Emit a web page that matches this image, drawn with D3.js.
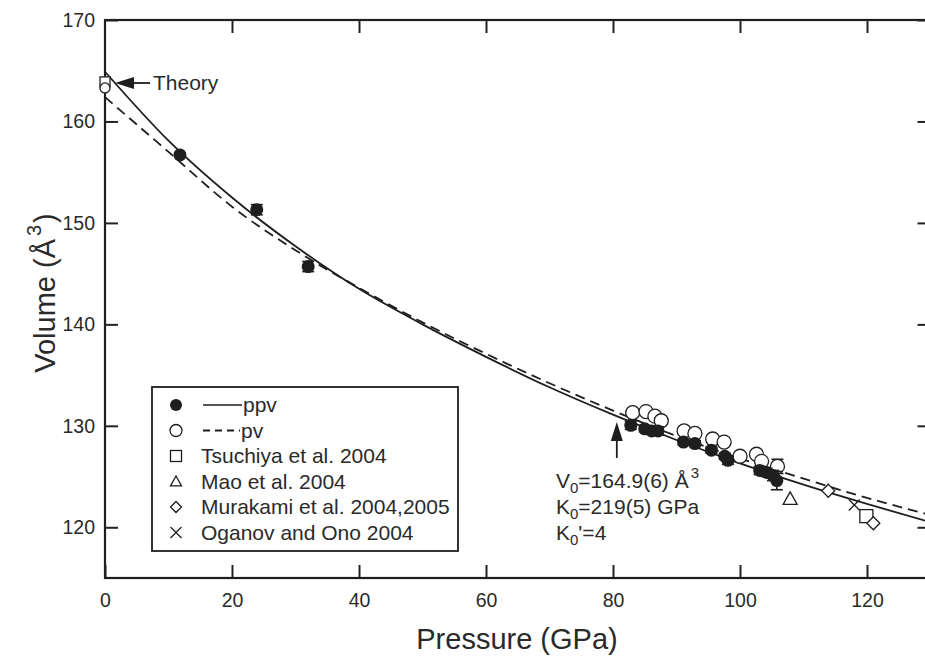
<!DOCTYPE html>
<html>
<head>
<meta charset="utf-8">
<script src="https://cdn.jsdelivr.net/npm/d3@7"></script>
<style>
  body { margin: 0; background: #fff; }
  svg { display: block; font-family: "Liberation Sans", Arial, sans-serif; }
  .axis text { font-size: 19.5px; fill: #2a2a2a; }
  .axis line { stroke: #222; stroke-width: 2; }
  .axis path { display: none; }
</style>
</head>
<body>
<svg id="chart" width="925" height="660"></svg>
<script>
// fitted EOS curves
const curveP = [0, 10, 20, 30, 40, 50, 60, 70, 80, 90, 100, 110, 120, 130];
const ppvCurveV = [164.9, 158.1, 152.5, 147.7, 143.5, 140.0, 136.8, 133.8, 131.1, 128.6, 126.3, 124.2, 122.3, 120.5];
const pvCurveV = [162.4, 157.0, 151.6, 147.3, 143.6, 140.2, 137.1, 134.2, 131.5, 129.0, 126.8, 124.8, 122.9, 121.2];

// measured ppv (filled) and pv (open)
const ppvP = [11.8, 23.9, 32.0, 82.8, 85.0, 86.1, 87.1, 91.1, 92.9, 95.5, 97.6, 98.1, 103.1, 104.2, 105.2, 105.8];
const ppvV = [156.7, 151.3, 145.7, 130.05, 129.7, 129.5, 129.5, 128.4, 128.25, 127.6, 127.0, 126.6, 125.6, 125.4, 125.1, 124.6];
const ppvErr = [0.2, 0.5, 0.5, 0.4, 0.3, 0.3, 0.4, 0.3, 0.3, 0.3, 0.3, 0.4, 0.4, 0.4, 0.5, 0.9];

const pvP = [83.1, 85.2, 86.6, 87.6, 91.2, 92.9, 95.7, 97.5, 100.0, 102.6, 103.4, 105.9];
const pvV = [131.3, 131.4, 130.95, 130.5, 129.5, 129.25, 128.7, 128.4, 127.0, 127.2, 126.5, 126.0];
const pvErr = [0.2, 0.2, 0.2, 0.2, 0.2, 0.2, 0.2, 0.2, 0.2, 0.2, 0.2, 0.7];

// theory at 0 GPa and literature values
const theorySquare = [[0, 163.9]];
const theoryCircle = [[0, 163.3]];
const tsuchiya = [[119.9, 121.1]];
const mao = [[107.9, 122.8]];
const murakami = [[113.9, 123.6], [121.0, 120.4]];
const oganov = [[118.0, 122.2]];

const xTicks = [0, 20, 40, 60, 80, 100, 120];
const yTicks = [120, 130, 140, 150, 160, 170];
const legendLabels = ['ppv', 'pv', 'Tsuchiya et al. 2004', 'Mao et al. 2004', 'Murakami et al. 2004,2005', 'Oganov and Ono 2004'];

const plotLeft = 105, plotRight = 930.5, plotTop = 20, plotBottom = 578;
const ink = '#1e1e1e';

const svg = d3.select('#chart');

const x = d3.scaleLinear().domain([0, 130]).range([plotLeft, plotRight]);
const y = d3.scaleLinear().domain([115, 170]).range([plotBottom, plotTop]);

// frame
svg.append('rect')
  .attr('x', plotLeft).attr('y', plotTop)
  .attr('width', plotRight - plotLeft).attr('height', plotBottom - plotTop)
  .attr('fill', 'none').attr('stroke', ink).attr('stroke-width', 2.2);

svg.append('g').attr('class', 'axis')
  .attr('transform', 'translate(0,' + plotBottom + ')')
  .call(d3.axisBottom(x).tickValues(xTicks).tickSizeInner(-13).tickSizeOuter(0).tickPadding(15));
svg.append('g').attr('class', 'axis')
  .attr('transform', 'translate(0,' + plotTop + ')')
  .call(d3.axisTop(x).tickValues(xTicks.slice(1)).tickSizeInner(-13).tickSizeOuter(0).tickFormat(''));
svg.append('g').attr('class', 'axis')
  .attr('transform', 'translate(' + plotLeft + ',0)')
  .call(d3.axisLeft(y).tickValues(yTicks).tickSizeInner(-13).tickSizeOuter(0).tickPadding(10));
svg.append('g').attr('class', 'axis')
  .attr('transform', 'translate(' + plotRight + ',0)')
  .call(d3.axisRight(y).tickValues(yTicks).tickSizeInner(-13).tickSizeOuter(0).tickFormat(''));

// axis titles
svg.append('text')
  .attr('x', 517).attr('y', 649)
  .attr('text-anchor', 'middle')
  .style('font-size', '29px').attr('fill', '#2a2a2a')
  .text('Pressure (GPa)');

const yTitle = svg.append('text')
  .attr('transform', 'translate(55,293) rotate(-90)')
  .attr('text-anchor', 'middle')
  .style('font-size', '29px').attr('fill', '#2a2a2a');
yTitle.append('tspan').text('Volume (Å');
yTitle.append('tspan').attr('dy', -14).attr('dx', 3).style('font-size', '20px').text('3');
yTitle.append('tspan').attr('dy', 14).attr('dx', 2).text(')');

// fitted curves
const line = d3.line()
  .x(function(d) { return x(d[0]); })
  .y(function(d) { return y(d[1]); })
  .curve(d3.curveMonotoneX);

svg.append('path')
  .datum(curveP.map(function(p, i) { return [p, pvCurveV[i]]; }))
  .attr('d', line)
  .attr('fill', 'none').attr('stroke', ink).attr('stroke-width', 1.8)
  .attr('stroke-dasharray', '10,6');

svg.append('path')
  .datum(curveP.map(function(p, i) { return [p, ppvCurveV[i]]; }))
  .attr('d', line)
  .attr('fill', 'none').attr('stroke', ink).attr('stroke-width', 1.8);

// error bars
function errorBars(P, V, E) {
  const g = svg.append('g').attr('stroke', ink).attr('stroke-width', 1.6);
  P.forEach(function(p, i) {
    const cx = x(p), y0 = y(V[i] - E[i]), y1 = y(V[i] + E[i]);
    g.append('line').attr('x1', cx).attr('x2', cx).attr('y1', y0).attr('y2', y1);
    g.append('line').attr('x1', cx - 6).attr('x2', cx + 6).attr('y1', y0).attr('y2', y0);
    g.append('line').attr('x1', cx - 6).attr('x2', cx + 6).attr('y1', y1).attr('y2', y1);
  });
}

errorBars(pvP, pvV, pvErr);

svg.append('g').selectAll('circle')
  .data(pvP.map(function(p, i) { return [p, pvV[i]]; }))
  .enter().append('circle')
  .attr('cx', function(d) { return x(d[0]); })
  .attr('cy', function(d) { return y(d[1]); })
  .attr('r', 7)
  .attr('fill', '#fff').attr('stroke', ink).attr('stroke-width', 1.3);

errorBars(ppvP, ppvV, ppvErr);

svg.append('g').selectAll('circle')
  .data(ppvP.map(function(p, i) { return [p, ppvV[i]]; }))
  .enter().append('circle')
  .attr('cx', function(d) { return x(d[0]); })
  .attr('cy', function(d) { return y(d[1]); })
  .attr('r', 6.5)
  .attr('fill', ink);

// other symbols
function marker(sel, type, size) {
  const s = size / 2;
  if (type === 'square') {
    sel.append('rect').attr('x', -s).attr('y', -s).attr('width', size).attr('height', size)
      .attr('fill', '#fff').attr('stroke', ink).attr('stroke-width', 1.3);
  } else if (type === 'circle') {
    sel.append('circle').attr('r', s).attr('fill', '#fff').attr('stroke', ink).attr('stroke-width', 1.3);
  } else if (type === 'filled') {
    sel.append('circle').attr('r', s).attr('fill', ink);
  } else if (type === 'triangle') {
    sel.append('path').attr('d', 'M0,' + (-s) + 'L' + s + ',' + (s * 0.8) + 'L' + (-s) + ',' + (s * 0.8) + 'Z')
      .attr('fill', '#fff').attr('stroke', ink).attr('stroke-width', 1.3);
  } else if (type === 'diamond') {
    sel.append('path').attr('d', 'M0,' + (-s) + 'L' + s + ',0L0,' + s + 'L' + (-s) + ',0Z')
      .attr('fill', '#fff').attr('stroke', ink).attr('stroke-width', 1.3);
  } else if (type === 'cross') {
    sel.append('path').attr('d', 'M' + (-s) + ',' + (-s) + 'L' + s + ',' + s + 'M' + s + ',' + (-s) + 'L' + (-s) + ',' + s)
      .attr('fill', 'none').attr('stroke', ink).attr('stroke-width', 1.3);
  }
}

function plotSymbols(data, type, size) {
  data.forEach(function(d) {
    const g = svg.append('g').attr('transform', 'translate(' + x(d[0]) + ',' + y(d[1]) + ')');
    marker(g, type, size);
  });
}

plotSymbols(theorySquare, 'square', 10);
plotSymbols(theoryCircle, 'circle', 10);
plotSymbols(tsuchiya, 'square', 13);
plotSymbols(mao, 'triangle', 14);
plotSymbols(murakami, 'diamond', 13);
plotSymbols(oganov, 'cross', 11);

// arrows
function arrow(x1, y1, x2, y2) {
  const ang = Math.atan2(y2 - y1, x2 - x1);
  const L = 19, W = 6;
  const bx = x2 - L * Math.cos(ang), by = y2 - L * Math.sin(ang);
  svg.append('line').attr('x1', x1).attr('y1', y1).attr('x2', bx).attr('y2', by)
    .attr('stroke', ink).attr('stroke-width', 1.8);
  svg.append('path')
    .attr('d', 'M' + x2 + ',' + y2 +
      'L' + (bx + W * Math.sin(ang)) + ',' + (by - W * Math.cos(ang)) +
      'L' + (bx - W * Math.sin(ang)) + ',' + (by + W * Math.cos(ang)) + 'Z')
    .attr('fill', ink);
}

arrow(150, 83, 115, 83);
svg.append('text').attr('x', 153).attr('y', 90).style('font-size', '21px').attr('fill', '#2a2a2a').text('Theory');

arrow(x(80.6), 458, x(80.6), 422);

// fit parameters
const ann = svg.append('g').style('font-size', '21px').attr('fill', '#2a2a2a');
const t1 = ann.append('text').attr('x', 556).attr('y', 488);
t1.append('tspan').text('V');
t1.append('tspan').attr('dy', 5).style('font-size', '15px').text('0');
t1.append('tspan').attr('dy', -5).text('=164.9(6) Å');
t1.append('tspan').attr('dy', -10).attr('dx', 2).style('font-size', '15px').text('3');
const t2 = ann.append('text').attr('x', 556).attr('y', 514);
t2.append('tspan').text('K');
t2.append('tspan').attr('dy', 5).style('font-size', '15px').text('0');
t2.append('tspan').attr('dy', -5).text('=219(5) GPa');
const t3 = ann.append('text').attr('x', 556).attr('y', 540);
t3.append('tspan').text('K');
t3.append('tspan').attr('dy', 5).style('font-size', '15px').text('0');
t3.append('tspan').attr('dy', -5).text('\'=4');

// legend
const lg = svg.append('g');
lg.append('rect').attr('x', 152).attr('y', 387).attr('width', 306).attr('height', 164)
  .attr('fill', '#fff').attr('stroke', ink).attr('stroke-width', 1.8);
const legendTypes = ['filled', 'circle', 'square', 'triangle', 'diamond', 'cross'];
const legendSizes = [12, 12, 11, 11, 11, 11];
legendLabels.forEach(function(label, i) {
  const cy = 405 + i * 25.5;
  const g = lg.append('g').attr('transform', 'translate(176,' + cy + ')');
  marker(g, legendTypes[i], legendSizes[i]);
  let tx = 201;
  if (i === 0) {
    lg.append('line').attr('x1', 203).attr('x2', 242).attr('y1', cy).attr('y2', cy)
      .attr('stroke', ink).attr('stroke-width', 1.6);
    tx = 243;
  } else if (i === 1) {
    lg.append('line').attr('x1', 203).attr('x2', 240).attr('y1', cy).attr('y2', cy)
      .attr('stroke', ink).attr('stroke-width', 2).attr('stroke-dasharray', '7,5');
    tx = 241;
  }
  lg.append('text').attr('x', tx).attr('y', cy + 7)
    .style('font-size', '21px').attr('fill', '#2a2a2a').text(label);
});
</script>
</body>
</html>
